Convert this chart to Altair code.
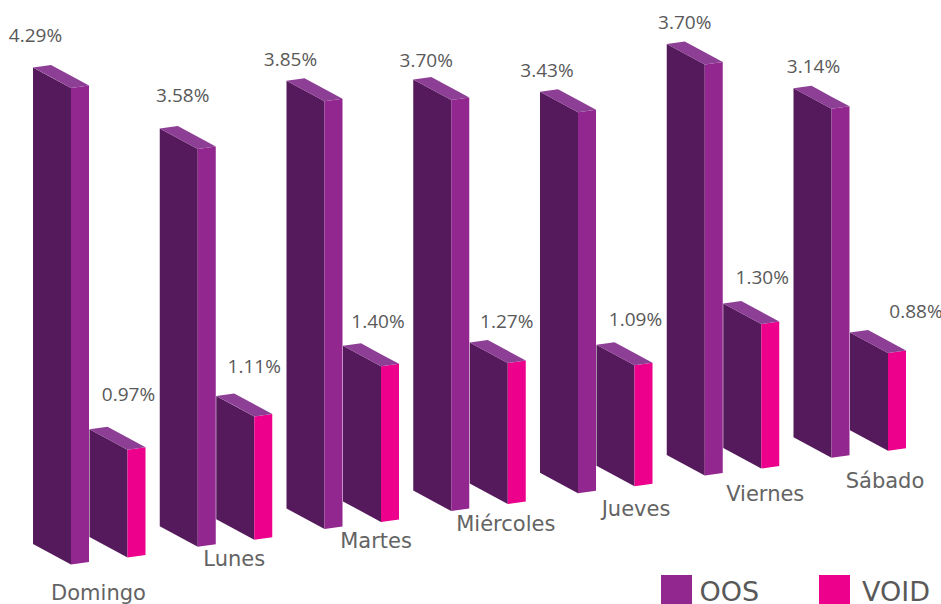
import altair as alt
import pandas as pd

categories = ["Domingo", "Lunes", "Martes", "Miércoles", "Jueves", "Viernes", "Sábado"]
oos = [4.29, 3.58, 3.85, 3.70, 3.43, 3.70, 3.14]
void = [0.97, 1.11, 1.40, 1.27, 1.09, 1.30, 0.88]
series_names = ["OOS", "VOID"]
series_colors = ["#92278F", "#EC008C"]

W, H = 941, 604
PX_PER_STEP = 126.75   # one category along the receding floor, horizontally
PX_PER_PCT = 111.1     # one percentage point of bar height

def ux(px):
    return px / PX_PER_STEP

def uy(px):
    return px / PX_PER_PCT

# Oblique projection of the floor and of each box
X0, FLOOR0, FLOOR_RISE = ux(33), uy(60), uy(17.8)
FACE_W, FACE_DROP = ux(38), uy(20.5)
DEPTH_W, DEPTH_RISE = ux(18), uy(2.5)
PAIR_DX, PAIR_RISE = ux(56.5), uy(7)

# Label placement relative to each box's front-left top corner or floor point (px)
oos_nudge = [(2.5, -31), (23, -32), (4, -21), (13, -19), (7, -21), (18, -21), (20, -21)]
void_nudge = [(39, -34), (38, -29), (35, -24), (37, -21), (39, -25), (39, -26), (66, -20)]
cat_nudge = [(65.5, 49.5), (74.5, 33.5), (89.5, 33.5), (92.5, 34.5), (96, 37.5), (98.5, 39.5), (91.5, 44.5)]

faces, value_labels, cat_labels = [], [], []
for i, cat in enumerate(categories):
    floor_x, floor_y = X0 + i, FLOOR0 + i * FLOOR_RISE
    cat_labels.append({
        "label": cat,
        "x": floor_x + ux(cat_nudge[i][0]),
        "y": floor_y - uy(cat_nudge[i][1]),
    })
    for series, values, nudges, sx, sy in (
        ("OOS", oos, oos_nudge, 0, 0),
        ("VOID", void, void_nudge, PAIR_DX, PAIR_RISE),
    ):
        v = values[i]
        xl, base = floor_x + sx, floor_y + sy
        top = base + v
        xr, xrr, xb = xl + FACE_W, xl + FACE_W + DEPTH_W, xl + DEPTH_W
        box = f"{i}-{series}"
        rows = [
            # front face
            ("front", xl, top, base),
            ("front", xr, top - FACE_DROP, base - FACE_DROP),
            # side face
            ("side", xr, top - FACE_DROP, base - FACE_DROP),
            ("side", xrr, top - FACE_DROP + DEPTH_RISE, base - FACE_DROP + DEPTH_RISE),
            # top face, read as an upper and a lower edge
            ("top", xl, top, top),
            ("top", xb, top + DEPTH_RISE, top - FACE_DROP * DEPTH_W / FACE_W),
            ("top", xr, top + DEPTH_RISE - (FACE_DROP * (FACE_W - DEPTH_W) / FACE_W), top - FACE_DROP),
            ("top", xrr, top - FACE_DROP + DEPTH_RISE, top - FACE_DROP + DEPTH_RISE),
        ]
        for face, x, upper, lower in rows:
            faces.append({"box": box, "face": face, "series": series,
                          "px": x, "upper": upper, "lower": lower})
        value_labels.append({
            "label": f"{v:.2f}%",
            "x": xl + ux(nudges[i][0]),
            "y": top - uy(nudges[i][1]),
        })

faces = pd.DataFrame(faces)
value_labels = pd.DataFrame(value_labels)
cat_labels = pd.DataFrame(cat_labels)

# Key entries sit along the bottom edge: a swatch followed by its name
key = pd.DataFrame({
    "series": series_names,
    "swatch_x": [ux(676.5), ux(834.5)],
    "swatch_y": [uy(H - 590.5)] * 2,
    "text_x": [ux(699.5), ux(862)],
    "text_y": [uy(H - 601)] * 2,
})

x_scale = alt.Scale(domain=[0, ux(W)], nice=False, zero=False)
y_scale = alt.Scale(domain=[0, uy(H)], nice=False, zero=False)
color_scale = alt.Scale(domain=series_names, range=series_colors)
x_enc = alt.X("px:Q", scale=x_scale, axis=None)
y_enc = alt.Y("upper:Q", scale=y_scale, axis=None, stack=None)

def face_layer(name, **mark):
    return (
        alt.Chart(faces[faces.face == name].reset_index(drop=True))
        .mark_area(interpolate="linear", orient="vertical", **mark)
        .encode(x=x_enc, y=y_enc, y2=alt.Y2("lower:Q"), detail="box:N")
    )

front = face_layer("front", color="#551A5B")
lid = face_layer("top", color="#8D3F95")
side = face_layer("side").encode(
    color=alt.Color("series:N", scale=color_scale, legend=None)
)

def text_layer(frame, **mark):
    return (
        alt.Chart(frame)
        .mark_text(**mark)
        .encode(x=alt.X("x:Q", scale=x_scale, axis=None),
                y=alt.Y("y:Q", scale=y_scale, axis=None), text="label:N")
    )

values_text = text_layer(value_labels, font="Open Sans", fontSize=19, color="#595959",
                         align="center", baseline="middle")
cats_text = text_layer(cat_labels, font="DejaVu Sans", fontSize=21, color="#636363",
                       align="center", baseline="middle")

key_swatches = (
    alt.Chart(key)
    .mark_point(shape="square", filled=True, size=961, opacity=1)
    .encode(x=alt.X("swatch_x:Q", scale=x_scale, axis=None),
            y=alt.Y("swatch_y:Q", scale=y_scale, axis=None),
            color=alt.Color("series:N", scale=color_scale, legend=None))
)
key_names = (
    alt.Chart(key)
    .mark_text(font="DejaVu Sans", fontSize=27, color="#595959", align="left", baseline="alphabetic")
    .encode(x=alt.X("text_x:Q", scale=x_scale, axis=None),
            y=alt.Y("text_y:Q", scale=y_scale, axis=None), text="series:N")
)

chart = (
    alt.layer(front, side, lid, values_text, cats_text, key_swatches, key_names)
    .properties(width=W, height=H, padding=0, autosize=alt.AutoSizeParams(type="none"), background="white")
    .configure_view(stroke=None)
)
chart.save("out.html", embed_options={"renderer": "svg", "actions": False})
